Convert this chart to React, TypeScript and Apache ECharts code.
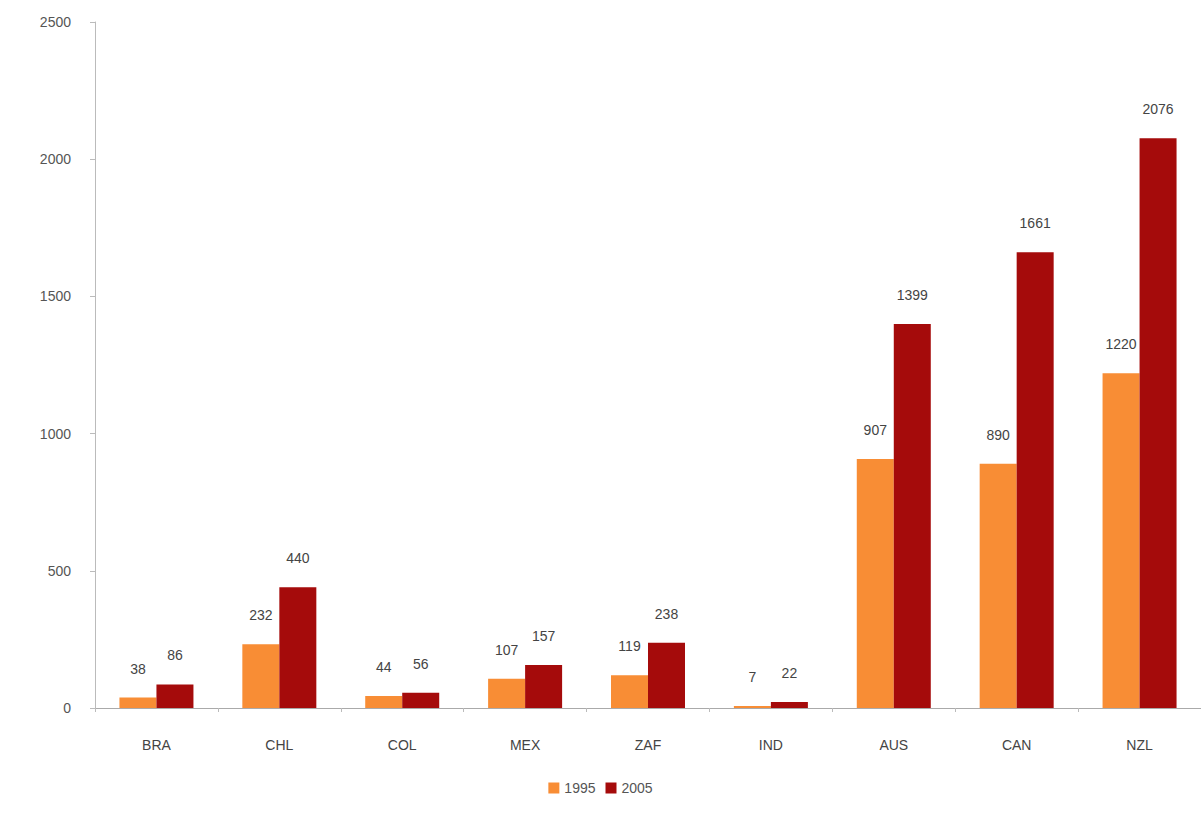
import React, { useEffect, useRef } from "react";
import * as echarts from "echarts";

const categories = ["BRA", "CHL", "COL", "MEX", "ZAF", "IND", "AUS", "CAN", "NZL"];
const values1995 = [38, 232, 44, 107, 119, 7, 907, 890, 1220];
const values2005 = [86, 440, 56, 157, 238, 22, 1399, 1661, 2076];
const yTicks = [0, 500, 1000, 1500, 2000, 2500];

export default function App() {
  const ref = useRef<HTMLDivElement>(null);
  useEffect(() => {
    if (!ref.current) return;
    const chart = echarts.init(ref.current, null, { renderer: "svg" });
    const labelStyle = {
      show: true,
      position: "top" as const,
      distance: 22,
      color: "#444",
      fontSize: 14,
      fontFamily: "Liberation Sans, Arial, sans-serif",
    };
    chart.setOption({
      animation: false,
      backgroundColor: "#fff",
      grid: { left: 95, right: -22, top: 22, bottom: 116, containLabel: false },
      legend: {
        bottom: 24,
        left: "center",
        itemWidth: 11,
        itemHeight: 11,
        itemGap: 10,
        icon: "rect",
        textStyle: { color: "#555", fontSize: 14, fontFamily: "Liberation Sans, Arial, sans-serif" },
        data: ["1995", "2005"],
      },
      xAxis: {
        type: "category",
        data: categories,
        axisLine: { lineStyle: { color: "#aaa" } },
        axisTick: { show: true, length: 4, lineStyle: { color: "#bbb" } },
        axisLabel: { color: "#444", fontSize: 14, margin: 30, fontFamily: "Liberation Sans, Arial, sans-serif" },
      },
      yAxis: {
        type: "value",
        min: yTicks[0],
        max: yTicks[yTicks.length - 1],
        interval: 500,
        splitLine: { show: false },
        axisLine: { show: true, lineStyle: { color: "#bbb" } },
        axisTick: { show: true, length: 5, lineStyle: { color: "#bbb" } },
        axisLabel: {
          color: "#555",
          fontSize: 14,
          margin: 24,
          fontFamily: "Liberation Sans, Arial, sans-serif",
          formatter: (v: number) => String(v),
        },
      },
      series: [
        {
          name: "1995",
          type: "bar",
          data: values1995,
          barWidth: 37,
          barGap: "0%",
          z: 1,
          itemStyle: { color: "#F88D35" },
          label: labelStyle,
        },
        {
          name: "2005",
          type: "bar",
          data: values2005,
          barWidth: 37,
          z: 3,
          itemStyle: { color: "#A50B0B" },
          label: labelStyle,
        },
      ],
    });
    return () => chart.dispose();
  }, []);
  return (
    <div
      ref={ref}
      style={{ position: "fixed", left: 0, top: 0, width: 1201, height: 824 }}
    />
  );
}
